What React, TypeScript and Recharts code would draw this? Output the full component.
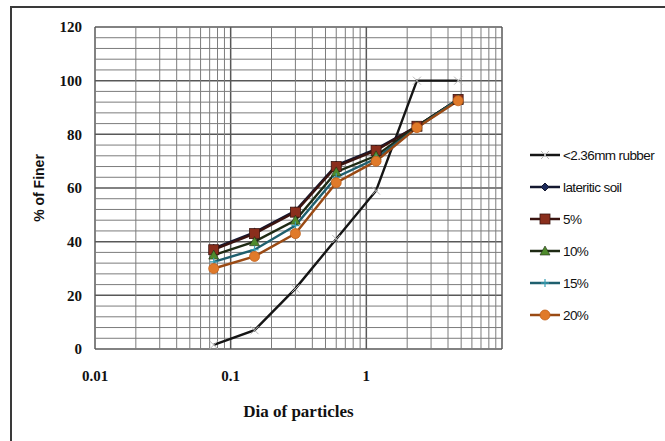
import React from "react";
import { LineChart, Line, XAxis, YAxis, CartesianGrid, ReferenceLine } from "recharts";

// sieve sizes (mm) and percent finer for each sample
const sieveSizes = [0.075, 0.15, 0.3, 0.6, 1.18, 2.36, 4.75];
const rubber = [1.5, 7, 22.5, 41, 59, 100, 100];
const lateriticSoil = [37.5, 43.5, 51.5, 68.5, 74.5, 83, 93];
const mix5 = [37, 43, 51, 68, 74, 83, 93];
const mix10 = [35, 40, 48, 66, 72, 83, 93];
const mix15 = [32.5, 37, 46, 64, 71, 82.5, 93];
const mix20 = [30, 34.5, 43, 62, 70, 82.5, 92.5];

const xTicks = [0.01, 0.1, 1, 10];
const xLabels = ["0.01", "0.1", "1", ""];
const yTicks = [0, 20, 40, 60, 80, 100, 120];

// log-cycle minor grid (2..9 per decade) and 4% horizontal minor grid
const xMinorTicks = [0.01, 0.1, 1].flatMap((d) =>
  [2, 3, 4, 5, 6, 7, 8, 9].map((m) => +(m * d).toFixed(3))
);
const yMinorTicks = Array.from({ length: 31 }, (_, i) => i * 4).filter((v) => v % 20 !== 0);

type Shape = "x" | "diamond" | "square" | "triangle" | "plus" | "circle";

const series: {
  key: string;
  name: string;
  values: number[];
  stroke: string;
  fill: string;
  shape: Shape;
}[] = [
  { key: "rubber", name: "<2.36mm rubber", values: rubber, stroke: "#151515", fill: "#b8b8b8", shape: "x" },
  { key: "laterite", name: "lateritic soil", values: lateriticSoil, stroke: "#141830", fill: "#1c2a5a", shape: "diamond" },
  { key: "p5", name: "5%", values: mix5, stroke: "#3a1410", fill: "#8a2e1c", shape: "square" },
  { key: "p10", name: "10%", values: mix10, stroke: "#1e2a14", fill: "#4f8a2c", shape: "triangle" },
  { key: "p15", name: "15%", values: mix15, stroke: "#1f5f6e", fill: "#3aa0b4", shape: "plus" },
  { key: "p20", name: "20%", values: mix20, stroke: "#9a4a14", fill: "#e07a2a", shape: "circle" },
];

const rows = sieveSizes.map((size, i) => {
  const row: Record<string, number> = { size };
  series.forEach((s) => {
    row[s.key] = s.values[i];
  });
  return row;
});

function Marker({ shape, cx, cy, fill, stroke }: { shape: Shape; cx: number; cy: number; fill: string; stroke: string }) {
  switch (shape) {
    case "x":
      return (
        <g stroke={fill} strokeWidth={1}>
          <line x1={cx - 4} y1={cy - 4} x2={cx + 4} y2={cy + 4} />
          <line x1={cx - 4} y1={cy + 4} x2={cx + 4} y2={cy - 4} />
        </g>
      );
    case "diamond":
      return <polygon points={`${cx},${cy - 4} ${cx + 4},${cy} ${cx},${cy + 4} ${cx - 4},${cy}`} fill={fill} stroke={stroke} />;
    case "square":
      return <rect x={cx - 5} y={cy - 5} width={10} height={10} fill={fill} stroke={stroke} strokeWidth={0.8} />;
    case "triangle":
      return <polygon points={`${cx},${cy - 5} ${cx + 5},${cy + 4} ${cx - 5},${cy + 4}`} fill={fill} stroke={stroke} strokeWidth={0.6} />;
    case "plus":
      return (
        <g stroke={fill} strokeWidth={1.2}>
          <line x1={cx - 4} y1={cy} x2={cx + 4} y2={cy} />
          <line x1={cx} y1={cy - 4} x2={cx} y2={cy + 4} />
        </g>
      );
    default:
      return <circle cx={cx} cy={cy} r={5} fill={fill} stroke="#c0601a" strokeWidth={0.8} />;
  }
}

const legendFont = "'Liberation Sans', Arial, sans-serif";
const tickFont = { fill: "#111", fontSize: 15, fontWeight: 700, fontFamily: "'Liberation Serif', serif" };

function SeriesLegend() {
  return (
    <div style={{ position: "absolute", left: 528, top: 139 }}>
      {series.map((s) => (
        <div key={s.key} style={{ display: "flex", alignItems: "center", height: 32 }}>
          <svg width={34} height={16}>
            <line x1={2} y1={8} x2={32} y2={8} stroke={s.stroke} strokeWidth={2.5} />
            <Marker shape={s.shape} cx={17} cy={8} fill={s.fill} stroke={s.stroke} />
          </svg>
          <span style={{ fontFamily: legendFont, fontSize: 13.5, letterSpacing: -0.6, color: "#111", marginLeft: 1 }}>
            {s.name}
          </span>
        </div>
      ))}
    </div>
  );
}

export default function App() {
  return (
    <div style={{ position: "relative", width: 665, height: 441, overflow: "hidden", background: "#fff" }}>
      <style>{"body{margin:0}"}</style>
      <div
        style={{
          position: "absolute",
          left: 10,
          top: 6,
          width: 700,
          height: 500,
          borderLeft: "2px solid #3a3a3a",
          borderTop: "2px solid #3a3a3a",
        }}
      />
      <LineChart width={665} height={441} data={rows} margin={{ top: 27, right: 163, bottom: 52, left: 45 }}>
        <CartesianGrid stroke="#585858" strokeWidth={1.5} />
        {xMinorTicks.map((v) => (
          <ReferenceLine key={`vx-${v}`} x={v} stroke="#7c7c7c" strokeWidth={1} />
        ))}
        {yMinorTicks.map((v) => (
          <ReferenceLine key={`hy-${v}`} y={v} stroke="#7c7c7c" strokeWidth={1} />
        ))}
        <XAxis
          dataKey="size"
          type="number"
          scale="log"
          domain={[0.01, 10]}
          ticks={xTicks}
          tickFormatter={(v: number) => xLabels[xTicks.indexOf(v)] ?? ""}
          allowDataOverflow
          height={40}
          tickSize={0}
          tickMargin={21}
          axisLine={false}
          tickLine={false}
          tick={tickFont}
          label={{
            content: ({ viewBox }: any) => (
              <text
                x={viewBox.x + viewBox.width / 2}
                y={413}
                textAnchor="middle"
                dominantBaseline="middle"
                fill="#111"
                fontSize={17}
                fontWeight={700}
                fontFamily="'Liberation Serif', serif"
              >
                Dia of particles
              </text>
            ),
          }}
        />
        <YAxis
          type="number"
          domain={[0, 120]}
          ticks={yTicks}
          width={50}
          tickSize={0}
          tickMargin={13}
          axisLine={false}
          tickLine={false}
          tick={tickFont}
          label={{
            content: ({ viewBox }: any) => (
              <text
                x={40}
                y={viewBox.y + viewBox.height / 2}
                transform={`rotate(-90 40 ${viewBox.y + viewBox.height / 2})`}
                textAnchor="middle"
                dominantBaseline="middle"
                fill="#111"
                fontSize={14}
                fontWeight={700}
                fontFamily="'Liberation Sans', Arial, sans-serif"
              >
                % of Finer
              </text>
            ),
          }}
        />
        {series.map((s) => (
          <Line
            key={s.key}
            type="linear"
            dataKey={s.key}
            name={s.name}
            stroke={s.stroke}
            strokeWidth={2.4}
            isAnimationActive={false}
            dot={(p: any) => (
              <Marker key={`${s.key}-${p.index}`} shape={s.shape} cx={p.cx} cy={p.cy} fill={s.fill} stroke={s.stroke} />
            )}
            activeDot={false}
          />
        ))}
      </LineChart>
      <SeriesLegend />
    </div>
  );
}
